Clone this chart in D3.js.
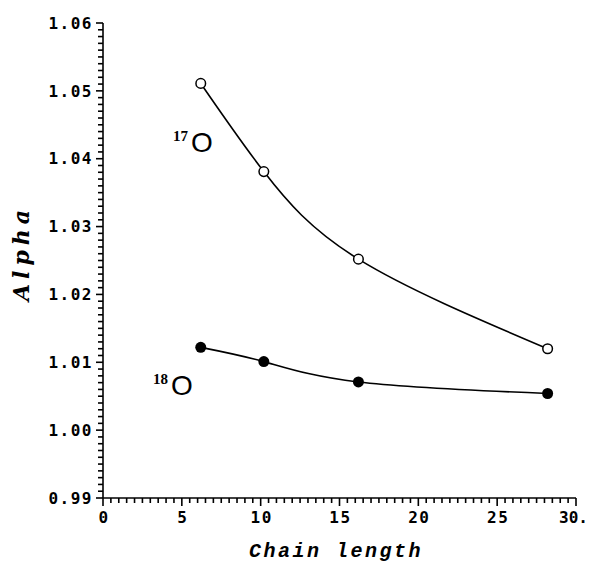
<!DOCTYPE html>
<html>
<head>
<meta charset="utf-8">
<script src="https://cdn.jsdelivr.net/npm/d3@7"></script>
<style>
  html, body { margin: 0; padding: 0; background: #fff; }
  svg { display: block; }
</style>
</head>
<body>
<svg id="chart" width="590" height="566"></svg>
<script>
// ---- data ----
const chainLength = [6.2, 10.2, 16.2, 28.2];
const alpha17O = [1.0511, 1.0381, 1.0252, 1.0120];
const alpha18O = [1.0122, 1.0101, 1.0071, 1.0054];
const xTickValues = [0, 5, 10, 15, 20, 25, 30];
const xTickLabels = ["0", "5", "10", "15", "20", "25", "30."];
const yTickValues = [0.99, 1.00, 1.01, 1.02, 1.03, 1.04, 1.05, 1.06];
const yTickLabels = ["0.99", "1.00", "1.01", "1.02", "1.03", "1.04", "1.05", "1.06"];

const svg = d3.select("#chart");
const x = d3.scaleLinear().domain([0, 30]).range([103, 576]);
const y = d3.scaleLinear().domain([0.99, 1.06]).range([498, 23]);

const tickFont = "'DejaVu Sans Mono', monospace";

// minor ticks
const xMinor = d3.range(0, 30.001, 0.5);
const yMinor = d3.range(0, 71).map(i => 0.99 + i * 0.001);

const g = svg.append("g").attr("stroke", "#000").attr("stroke-width", 1.6);

// y axis
g.append("line").attr("x1", x(0)).attr("x2", x(0)).attr("y1", y(1.06)).attr("y2", y(0.99));
g.selectAll(".ym").data(yMinor).enter().append("line")
  .attr("x1", x(0)).attr("x2", (d, i) => x(0) - (i % 10 === 0 ? 7 : 5))
  .attr("y1", d => y(d)).attr("y2", d => y(d));

// x axis
g.append("line").attr("x1", x(0)).attr("x2", x(30)).attr("y1", y(0.99)).attr("y2", y(0.99));
g.selectAll(".xm").data(xMinor).enter().append("line")
  .attr("y1", y(0.99)).attr("y2", (d, i) => y(0.99) + (i % 10 === 0 ? 8 : 5))
  .attr("x1", d => x(d)).attr("x2", d => x(d));

// tick labels
svg.selectAll(".yl").data(yTickValues).enter().append("text")
  .attr("x", x(0) - 10).attr("y", d => y(d)).attr("dy", "0.36em")
  .attr("text-anchor", "end")
  .attr("font-family", tickFont).attr("font-weight", "bold").attr("font-size", 16).attr("letter-spacing", 1.5)
  .text((d, i) => yTickLabels[i]);

svg.selectAll(".xl").data(xTickValues).enter().append("text")
  .attr("x", (d, i) => i === xTickValues.length - 1 ? 588 : x(d) + 1).attr("y", 523)
  .attr("text-anchor", (d, i) => i === xTickValues.length - 1 ? "end" : "middle")
  .attr("font-family", tickFont).attr("font-weight", "bold").attr("font-size", 16)
  .attr("letter-spacing", (d, i) => i === xTickValues.length - 1 ? 0 : 1.5)
  .text((d, i) => xTickLabels[i]);

// axis titles
svg.append("text")
  .attr("transform", `translate(29,${253}) rotate(-90)`)
  .attr("text-anchor", "middle")
  .attr("font-family", "'DejaVu Serif', serif").attr("font-style", "italic").attr("font-weight", "bold")
  .attr("font-size", 22).attr("letter-spacing", 5)
  .text("Alpha");

svg.append("text")
  .attr("x", 336).attr("y", 557)
  .attr("text-anchor", "middle")
  .attr("font-family", "'Liberation Mono', monospace").attr("font-style", "italic").attr("font-weight", "bold")
  .attr("font-size", 20).attr("letter-spacing", 2.5)
  .text("Chain length");

// curves
const line = d3.line().x(d => x(d[0])).y(d => y(d[1])).curve(d3.curveNatural);
const s17 = chainLength.map((c, i) => [c, alpha17O[i]]);
const s18 = chainLength.map((c, i) => [c, alpha18O[i]]);

svg.append("path").attr("d", line(s17)).attr("fill", "none").attr("stroke", "#000").attr("stroke-width", 1.6);
svg.append("path").attr("d", line(s18)).attr("fill", "none").attr("stroke", "#000").attr("stroke-width", 1.6);

svg.selectAll(".p17").data(s17).enter().append("circle")
  .attr("cx", d => x(d[0])).attr("cy", d => y(d[1])).attr("r", 4.8)
  .attr("fill", "#fff").attr("stroke", "#000").attr("stroke-width", 1.5);
svg.selectAll(".p18").data(s18).enter().append("circle")
  .attr("cx", d => x(d[0])).attr("cy", d => y(d[1])).attr("r", 5.5)
  .attr("fill", "#000");

// series labels
function isoLabel(xp, yp, mass) {
  const t = svg.append("text").attr("x", xp).attr("y", yp)
    .attr("font-family", "'Liberation Sans', sans-serif");
  t.append("tspan").attr("font-family", "'Liberation Serif', serif").attr("font-weight", "bold")
    .attr("font-size", 15).attr("dy", -11).text(mass);
  t.append("tspan").attr("font-size", 28).attr("dx", 3).attr("dy", 11).text("O");
}
isoLabel(173, 152, "17");
isoLabel(153, 395, "18");
</script>
</body>
</html>
